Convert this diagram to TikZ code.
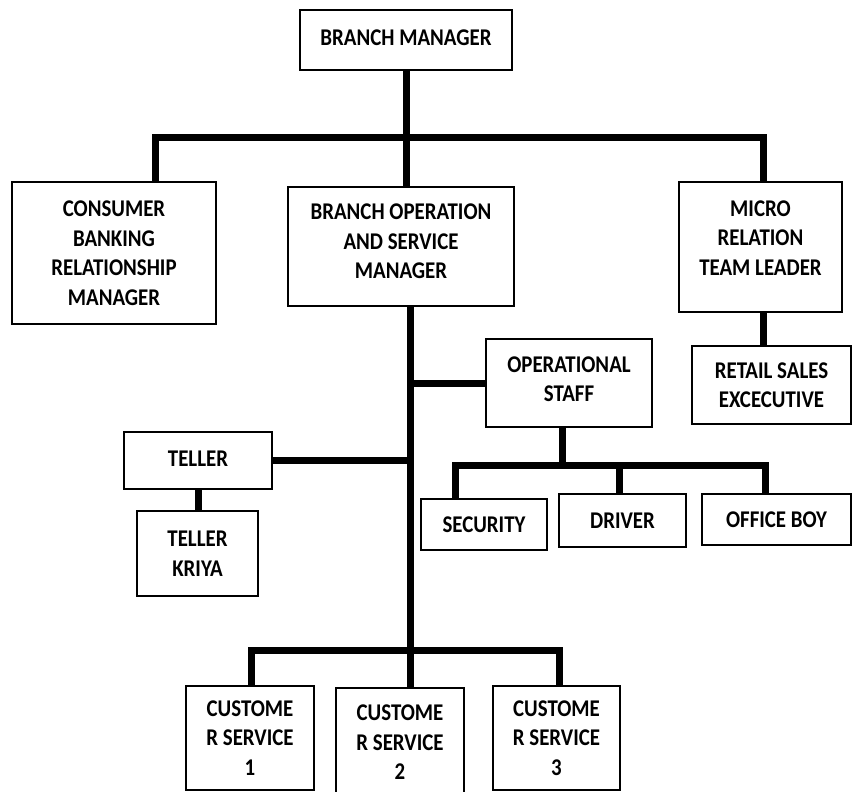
\documentclass[tikz,border=0pt]{standalone}
\usepackage{fontspec}
\setmainfont{Carlito}[FakeStretch=0.87]
\begin{document}
\begin{tikzpicture}[x=1pt,y=-1pt,
  box/.style={draw=black,line width=2.5pt,rectangle,inner sep=0pt,align=center,
    font=\bfseries\fontsize{24}{29.5}\selectfont},
  conn/.style={line width=7pt,line join=miter}]
\useasboundingbox (0,0) rectangle (852,792);
% boxes
\node[box,minimum width=212pt,minimum height=60pt] (bm) at (406,40) {\raisebox{5pt}{BRANCH MANAGER}};
\node[box,minimum width=204pt,minimum height=142pt] (cons) at (114,253) {CONSUMER\\BANKING\\RELATIONSHIP\\MANAGER};
\node[box,minimum width=226pt,minimum height=119pt] (bop) at (401,246.5) {BRANCH OPERATION\\AND SERVICE\\MANAGER\\[-19.5pt]};
\node[box,minimum width=163pt,minimum height=130pt] (micro) at (760.5,247) {MICRO\\RELATION\\TEAM LEADER\\[-11.5pt]};
\node[box,minimum width=166pt,minimum height=88pt] (ops) at (569,383) {OPERATIONAL\\STAFF\\[-21.5pt]};
\node[box,minimum width=159pt,minimum height=78pt] (retail) at (771.5,385) {RETAIL SALES\\EXCECUTIVE};
\node[box,minimum width=148pt,minimum height=57pt] (teller) at (198,460.5) {\raisebox{4pt}{TELLER}};
\node[box,minimum width=121pt,minimum height=85pt] (kriya) at (197.5,553.5) {TELLER\\KRIYA};
\node[box,minimum width=126pt,minimum height=51pt] (sec) at (484,524.5) {SECURITY};
\node[box,minimum width=127pt,minimum height=53pt] (driver) at (622.5,520.5) {DRIVER};
\node[box,minimum width=149pt,minimum height=51pt] (oboy) at (776.5,519.5) {OFFICE BOY};
\node[box,minimum width=128pt,minimum height=104pt] (cs1) at (250,738) {CUSTOME\\R SERVICE\\1};
\node[box,minimum width=128pt,minimum height=109pt] (cs2) at (400,742.5) {CUSTOME\\R SERVICE\\2};
\node[box,minimum width=127pt,minimum height=104pt] (cs3) at (556.5,738) {CUSTOME\\R SERVICE\\3};
% junction coordinates
\coordinate (j1) at (406,137);
\coordinate (b1L) at (155,137);
\coordinate (b1R) at (763,137);
\coordinate (trunk) at (410,650);
\coordinate (b2L) at (251,650);
\coordinate (b2R) at (559,650);
\coordinate (j3) at (562,465);
\coordinate (b3L) at (455,465);
\coordinate (b3M) at (619,465);
\coordinate (b3R) at (765,465);
\coordinate (mr) at (763,300);
% connectors
\draw[conn] (bm.south) -- (j1);
\draw[conn] (b1L |- cons.north) -- (b1L) -- (b1R) -- (b1R |- micro.north);
\draw[conn] (j1) -- (j1 |- bop.north);
\draw[conn] (trunk |- bop.south) -- (trunk);
\draw[conn] (b2L |- cs1.north) -- (b2L) -- (b2R) -- (b2R |- cs3.north);
\draw[conn] (trunk) -- (trunk |- cs2.north);
\draw[conn] (trunk |- ops.west) -- (ops.west);
\draw[conn] (teller.east) -- (trunk |- teller.east);
\draw[conn] (teller.south) -- (teller.south |- kriya.north);
\draw[conn] (mr |- micro.south) -- (mr |- retail.north);
\draw[conn] (j3 |- ops.south) -- (j3);
\draw[conn] (b3L |- sec.north) -- (b3L) -- (b3R) -- (b3R |- oboy.north);
\draw[conn] (b3M) -- (b3M |- driver.north);
\end{tikzpicture}
\end{document}
